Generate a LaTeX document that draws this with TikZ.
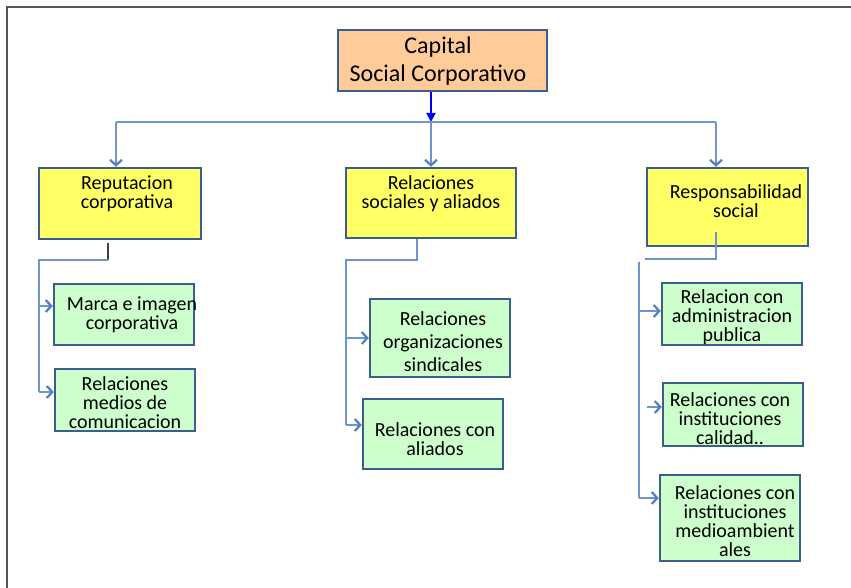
\documentclass[tikz,border=0pt]{standalone}
\usepackage{fontspec}
\setmainfont{Carlito}
\usetikzlibrary{arrows.meta}
\definecolor{boxedge}{HTML}{3B5E8C}
\definecolor{peach}{HTML}{FFCC99}
\definecolor{lemon}{HTML}{FFFF66}
\definecolor{mint}{HTML}{CCFFCC}
\definecolor{wire}{HTML}{6C95CB}
\definecolor{wiretip}{HTML}{4F7FBF}
\definecolor{framegray}{HTML}{555555}
\tikzset{
  box/.style={draw=boxedge, line width=2.5pt, inner sep=0pt},
  headbox/.style={box, fill=peach},
  mainbox/.style={box, fill=lemon},
  subbox/.style={box, fill=mint},
  txt/.style={inner sep=0pt, align=center, font=\fontsize{20}{19}\selectfont},
  wireline/.style={draw=wire, line width=1.4pt},
  feed/.style={wireline, -{Straight Barb[length=5.5pt,width=12pt,line width=2.2pt,color=wiretip]}},
}
\begin{document}
\begin{tikzpicture}[x=1pt,y=-1pt]
\useasboundingbox (0,0) rectangle (851,588);

% page frame
\draw[framegray, line width=1.5pt] (7,588) -- (7,7) -- (851,7);

% boxes
\node[headbox, minimum width=209pt, minimum height=61pt] (cap) at (442.5,60.5) {};
\node[mainbox, minimum width=162pt, minimum height=71pt] (rep) at (120,203.5) {};
\node[mainbox, minimum width=170pt, minimum height=70pt] (rel) at (431,203) {};
\node[mainbox, minimum width=161pt, minimum height=78pt] (res) at (727.5,207) {};
\node[subbox, minimum width=140pt, minimum height=61pt] (mar) at (124,314.5) {};
\node[subbox, minimum width=140pt, minimum height=62pt] (med) at (125,400) {};
\node[subbox, minimum width=140pt, minimum height=78pt] (org) at (440,338) {};
\node[subbox, minimum width=140pt, minimum height=70pt] (ali) at (433,434) {};
\node[subbox, minimum width=140pt, minimum height=62pt] (adm) at (732,314) {};
\node[subbox, minimum width=140pt, minimum height=63pt] (cal) at (733,414.5) {};
\node[subbox, minimum width=140pt, minimum height=86pt] (amb) at (730,518) {};

% texts
\node[txt, font=\fontsize{24}{28}\selectfont] (cap-t) at (438,61) {Capital\\Social Corporativo};
\node[txt] (rep-t) at (127,193.5) {Reputacion\\corporativa};
\node[txt] (rel-t) at (431,193.5) {Relaciones\\sociales y aliados};
\node[txt] (res-t) at (736,201.5) {Responsabilidad\\social};
\node[txt] (mar-t) at (132,315) {Marca e imagen\\corporativa};
\node[txt] (med-t) at (125,402.5) {Relaciones\\medios de\\comunicacion};
\node[txt, font=\fontsize{20}{23}\selectfont] (org-t) at (443,342) {Relaciones\\organizaciones\\sindicales};
\node[txt] (ali-t) at (435,439.5) {Relaciones con\\aliados};
\node[txt] (adm-t) at (732,317) {Relacion con\\administracion\\publica};
\node[txt] (cal-t) at (730,418.5) {Relaciones con\\instituciones\\calidad..};
\node[txt] (amb-t) at (735,521) {Relaciones con\\instituciones\\medioambient\\ales};

% top level distribution
\coordinate (hub) at (431,122);
\coordinate (busL) at (116,122);
\coordinate (busR) at (716,122);
\draw[blue, line width=2pt, -{Triangle[length=9pt,width=9pt]}] (hub |- cap.south) -- (hub);
\draw[wireline] (busL) -- (busR);
\draw[feed] (busL) -- (busL |- rep.north);
\draw[feed] (hub) -- (hub |- rel.north);
\draw[feed] (busR) -- (busR |- res.north);

% left branch
\coordinate (lA) at (108,243);
\coordinate (lB) at (108,260);
\coordinate (lC) at (39,260);
\coordinate (lD) at (39,392);
\draw[black!75, line width=1.4pt] (lA) -- (lB);
\draw[wireline] (lB) -- (lC) -- (lD);
\draw[feed] (39,306) -- (mar.west |- 0,306);
\draw[feed] (lD) -- (med.west |- lD);

% middle branch
\coordinate (mA) at (417,260);
\coordinate (mB) at (346,260);
\coordinate (mC) at (346,425);
\draw[wireline] (rel.south -| mA) -- (mA) -- (mB) -- (mC);
\draw[feed] (346,338) -- (org.west |- 0,338);
\draw[feed] (mC) -- (ali.west |- mC);

% right branch
\coordinate (rA) at (716,259);
\coordinate (rB) at (645,259);
\coordinate (rC) at (639,262);
\coordinate (rD) at (639,498);
\draw[wireline] (716,232) -- (rA) -- (rB);
\draw[wireline] (rC) -- (rD);
\draw[feed] (639,311) -- (adm.west |- 0,311);
\draw[feed] (647,407) -- (cal.west |- 0,407);
\draw[feed] (rD) -- (amb.west |- rD);
\end{tikzpicture}
\end{document}
